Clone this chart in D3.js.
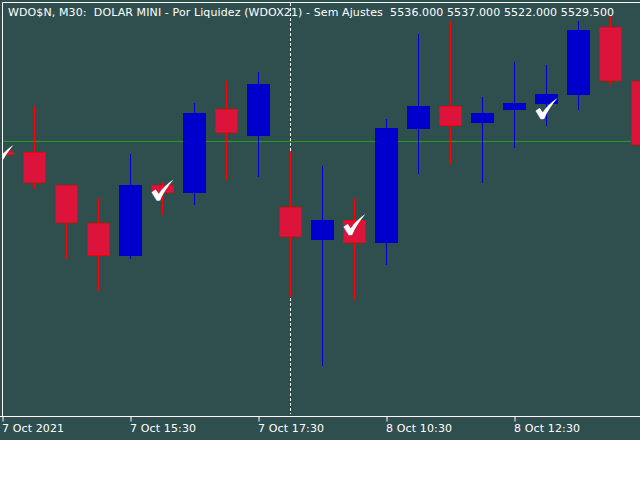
<!DOCTYPE html>
<html>
<head>
<meta charset="utf-8">
<script src="https://cdn.jsdelivr.net/npm/d3@7"></script>
<style>
    html, body { margin: 0; padding: 0; background: #fff; }
    svg { display: block; }
    text { font-family: "DejaVu Sans", sans-serif; font-size: 11px; fill: #fff; }
</style>
</head>
<body>
<div id="chart"></div>
<script>
var title = "WDO$N, M30:  DOLAR MINI - Por Liquidez (WDOX21) - Sem Ajustes  5536.000 5537.000 5522.000 5529.500";

// candle 0 is cut by the left edge, the last one by the right edge
var opens  = [5528.92, 5528.86, 5525.40, 5521.53, 5518.24, 5525.40, 5524.63, 5533.20, 5530.44, 5523.16, 5519.84, 5521.88, 5519.54, 5531.16, 5533.50, 5531.77, 5533.09, 5533.71, 5534.62, 5541.56, 5536.00];
var highs  = [5528.92, 5533.50, 5525.40, 5524.12, 5528.61, 5525.76, 5533.81, 5536.05, 5536.97, 5528.92, 5527.39, 5524.12, 5532.18, 5540.84, 5542.17, 5534.42, 5537.99, 5537.68, 5542.17, 5542.68, 5537.00];
var lows   = [5528.51, 5525.04, 5517.91, 5514.64, 5517.91, 5522.39, 5523.41, 5525.96, 5526.27, 5514.03, 5507.00, 5513.73, 5517.29, 5526.57, 5527.59, 5525.65, 5529.22, 5531.46, 5533.09, 5535.64, 5522.00];
var closes = [5528.51, 5525.65, 5521.53, 5518.24, 5525.40, 5524.63, 5532.79, 5530.75, 5535.75, 5520.15, 5521.88, 5519.54, 5531.26, 5533.50, 5531.46, 5532.79, 5533.81, 5534.73, 5541.25, 5536.05, 5529.50];
var signals = [0, 5, 11, 17];
var tickIndex = [0, 4, 8, 12, 16];
var tickLabels = ["7 Oct 2021", "7 Oct 15:30", "7 Oct 17:30", "8 Oct 10:30", "8 Oct 12:30"];
var lastPrice = 5529.88;
var crossIndex = 9;

var width = 640,
    height = 440,
    margin = {top: 2, right: 0, bottom: 24, left: 2};

var svg = d3.select("#chart")
    .append("svg")
    .attr("width", 640)
    .attr("height", 480);

svg.append("rect")
    .attr("width", width)
    .attr("height", height)
    .attr("fill", "#2f4f4f");

// 32px per bar, first bar sits on the left border
var x = d3.scaleLinear()
    .domain([0, 20])
    .range([2.5, 642.5]);

var y = d3.scaleLinear()
    .domain([5501.9, 5544.1])
    .range([height - margin.bottom, margin.top]);

svg.append("clipPath")
    .attr("id", "plot")
    .append("rect")
    .attr("x", margin.left + 1)
    .attr("y", margin.top)
    .attr("width", width - margin.left)
    .attr("height", height - margin.top - margin.bottom);

// crosshair goes under the candles
svg.append("line")
    .attr("x1", x(crossIndex))
    .attr("x2", x(crossIndex))
    .attr("y1", margin.top + 1)
    .attr("y2", height - margin.bottom - 2)
    .attr("stroke", "#fff")
    .attr("stroke-dasharray", "3,2");

var plot = svg.append("g").attr("clip-path", "url(#plot)");

// price line
plot.append("line")
    .attr("x1", 0)
    .attr("x2", width)
    .attr("y1", Math.floor(y(lastPrice)) + 0.5)
    .attr("y2", Math.floor(y(lastPrice)) + 0.5)
    .attr("stroke", "#1ea01e");

var candles = plot.selectAll("g.candle")
    .data(d3.range(opens.length))
    .enter()
    .append("g")
    .attr("class", "candle")
    .attr("shape-rendering", "crispEdges");

function isUp(i) {
    return closes[i] >= opens[i];
}

candles.append("line")
    .attr("x1", function (i) { return x(i); })
    .attr("x2", function (i) { return x(i); })
    .attr("y1", function (i) { return y(highs[i]); })
    .attr("y2", function (i) { return y(lows[i]); })
    .attr("stroke", function (i) { return isUp(i) ? "#0000cd" : "#ff0000"; })
    .attr("stroke-width", 1);

// body is inset half a pixel so the border stays on the price
candles.append("rect")
    .attr("x", function (i) { return x(i) - 11; })
    .attr("width", 22)
    .attr("y", function (i) { return y(Math.max(opens[i], closes[i])) + 0.5; })
    .attr("height", function (i) { return Math.max(1, Math.abs(y(opens[i]) - y(closes[i])) - 1); })
    .attr("fill", function (i) { return isUp(i) ? "#0000cd" : "#dc143c"; })
    .attr("stroke", function (i) { return isUp(i) ? "#0000cd" : "#ff0000"; })
    .attr("stroke-width", 1);

// check marks sit on the open of the signal bar
var check = "M-10.5,2.8 L-6.8,0 L-3.6,4.6 C0,-1 4.5,-5.5 11,-10 C5,-3 0.5,4 -2.4,11 L-5.4,11 Z";

plot.selectAll("path.shadow")
    .data(signals)
    .enter()
    .append("path")
    .attr("class", "shadow")
    .attr("d", check)
    .attr("fill", "#9cc4ee")
    .attr("transform", function (i) { return "translate(" + (x(i) - 0.6) + "," + (y(opens[i]) + 4.3) + ")"; });

plot.selectAll("path.check")
    .data(signals)
    .enter()
    .append("path")
    .attr("class", "check")
    .attr("d", check)
    .attr("fill", "#fff")
    .attr("transform", function (i) { return "translate(" + x(i) + "," + (y(opens[i]) + 4) + ")"; });

// frame
svg.append("path")
    .attr("d", "M" + (margin.left + 0.5) + "," + (height - margin.bottom + 0.5) +
        "V" + (margin.top + 0.5) + "H" + width)
    .attr("fill", "none")
    .attr("stroke", "#fff");

var xAxis = svg.append("g")
    .attr("transform", "translate(0," + (height - margin.bottom + 0.5) + ")")
    .call(d3.axisBottom(x)
        .tickValues(tickIndex)
        .tickFormat(function (d, i) { return tickLabels[i]; })
        .tickSize(5)
        .tickSizeOuter(0));

xAxis.select(".domain").attr("stroke", "#fff").attr("d", "M0,0H" + width);
xAxis.selectAll(".tick line").attr("stroke", "#fff");
xAxis.selectAll(".tick text")
    .attr("text-anchor", "start")
    .attr("x", -1)
    .attr("y", 8)
    .attr("dy", "0.71em")
    .attr("fill", "#fff")
    .attr("textLength", function (d, i) { return i === 0 ? 62 : 66; })
    .attr("lengthAdjust", "spacing")
    .style("font-family", "'DejaVu Sans', sans-serif")
    .style("font-size", "11px");

svg.append("text")
    .attr("x", 8)
    .attr("y", 16)
    .attr("textLength", 606)
    .attr("lengthAdjust", "spacing")
    .style("white-space", "pre")
    .text(title);
</script>
</body>
</html>
